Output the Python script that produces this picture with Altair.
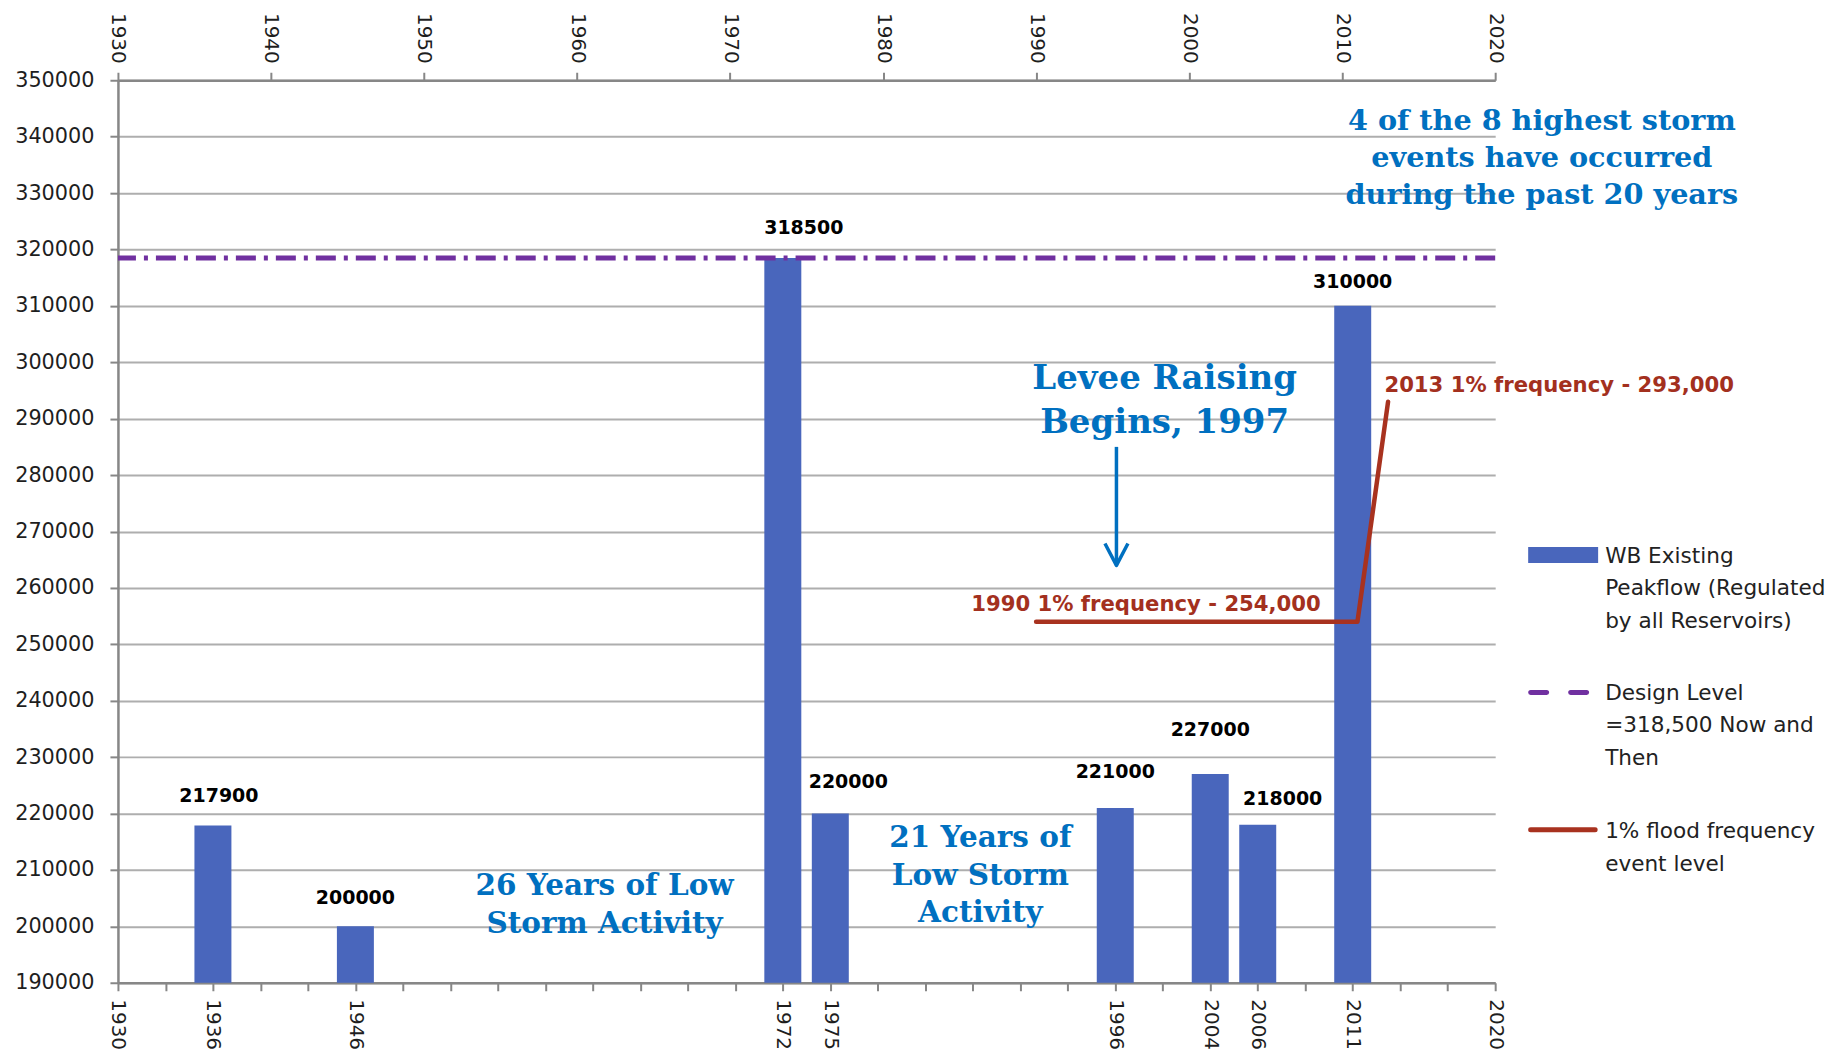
import json
import altair as alt
import pandas as pd

# ---------------- data ----------------
# bottom (category) axis: 30 slots, only some carry a year label
category_labels = [
    "1930", "", "1936", "", "", "1946", "", "", "", "", "", "", "", "",
    "1972", "1975", "", "", "", "", "", "1996", "", "2004", "2006", "",
    "2011", "", "", "2020",
]
event_years = ["1936", "1946", "1972", "1975", "1996", "2004", "2006", "2011"]
peakflow = [217900, 200000, 318500, 220000, 221000, 227000, 218000, 310000]

design_level = [318500]

freq_years = [1990, 2011, 2013]
freq_values = [254000, 254000, 293000]

arrow_years = [1995.25, 1995.25]
arrow_values = [285000, 264000]

y_ticks = list(range(190000, 350001, 10000))
top_ticks = list(range(1930, 2021, 10))

# ---------------- styles ----------------
BAR = "#4966BC"
PURPLE = "#7030A0"
RED = "#A8321F"
RED_TEXT = "#A3301E"
BLUE_TEXT = "#0070C0"
AXIS = "#878787"
GRID = "#AEAEAE"
LABEL = "#1E1E1E"

W, H = 1378, 903

bars_df = pd.DataFrame({
    "year": event_years,
    "slot": [category_labels.index(y) for y in event_years],
    "flow": peakflow,
})
freq_df = pd.DataFrame({"year": freq_years, "flow": freq_values,
                        "order": list(range(len(freq_years)))})
design_df = pd.DataFrame({"flow": design_level})
arrow_df = pd.DataFrame({"year": arrow_years, "flow": arrow_values,
                         "order": [0, 1]})
one = pd.DataFrame({"k": [0]})

y_scale = alt.Scale(domain=[190000, 350000], nice=False, zero=False)
y_axis = alt.Axis(values=y_ticks, format="d", grid=True, gridColor=GRID,
                  gridWidth=2, domainColor=AXIS, domainWidth=2.5,
                  tickColor=AXIS, tickWidth=2, tickSize=8, labelPadding=16,
                  labelFont="DejaVu Sans", labelFontSize=20.8,
                  labelColor=LABEL, labelFlush=False, title=None)

slot_scale = alt.Scale(domain=[0, len(category_labels) - 1], nice=False,
                       zero=False, padding=0)
slot_axis = alt.Axis(orient="bottom", values=list(range(len(category_labels))),
                     labelExpr=json.dumps(category_labels) + "[datum.value]",
                     labelAngle=90, labelAlign="left", labelBaseline="middle",
                     labelPadding=8, tickSize=8, tickColor=AXIS, tickWidth=2,
                     domainColor=AXIS, domainWidth=2.5, grid=False,
                     labelFont="DejaVu Sans", labelFontSize=20,
                     labelColor=LABEL, labelOverlap=False, labelFlush=False,
                     title=None)

year_scale = alt.Scale(domain=[1930, 2020], nice=False, zero=False, padding=0)
year_axis = alt.Axis(orient="top", values=top_ticks, format="d",
                     labelAngle=90, labelAlign="right", labelBaseline="middle",
                     labelPadding=9, tickSize=8, tickColor=AXIS, tickWidth=2,
                     domainColor=AXIS, domainWidth=2.5, grid=False,
                     labelFont="DejaVu Sans", labelFontSize=20,
                     labelColor=LABEL, labelOverlap=False, labelFlush=False,
                     title=None)

X_SLOT = alt.X("slot:Q", scale=slot_scale, axis=slot_axis)
X_YEAR = alt.X("year:Q", scale=year_scale, axis=year_axis)
Y = alt.Y("flow:Q", scale=y_scale, axis=y_axis)

# ---------------- bar group (category axis) ----------------
bars = alt.Chart(bars_df).mark_bar(color=BAR, size=37).encode(
    x=X_SLOT, y=Y, y2=alt.datum(190000)
)

label_nudge = {"1936": (6, -29), "1946": (0, -28), "1972": (21, -30),
               "1975": (18, -32), "1996": (0, -36), "2004": (0, -44),
               "2006": (25, -26), "2011": (0, -24)}
value_labels = []
for yr, (ddx, ddy) in label_nudge.items():
    value_labels.append(
        alt.Chart(bars_df).transform_filter(alt.datum.year == yr)
        .mark_text(font="DejaVu Sans", fontWeight="bold", fontSize=19,
                   color="#000000", baseline="middle", dx=ddx, dy=ddy)
        .encode(x=X_SLOT, y=Y, text=alt.Text("flow:Q", format="d"))
    )

bar_group = alt.layer(bars, *value_labels)

# ---------------- year group (top linear axis) ----------------
design = alt.Chart(design_df).mark_rule(
    color=PURPLE, strokeWidth=5, strokeDash=[20, 8, 4, 8]
).encode(y=Y)

freq_line = alt.Chart(freq_df).mark_line(
    color=RED, strokeWidth=4.5, strokeCap="round", strokeJoin="round"
).encode(x=X_YEAR, y=Y, order="order:Q")

arrow_line = alt.Chart(arrow_df).mark_line(
    color=BLUE_TEXT, strokeWidth=3.5
).encode(x=X_YEAR, y=Y, order="order:Q")

arrow_head = alt.Chart(arrow_df).transform_filter(alt.datum.order == 1).mark_point(
    shape="M -1 -1.9 L 0 0 L 1 -1.9", filled=False, strokeWidth=3.5,
    size=529, color=BLUE_TEXT, opacity=1, strokeJoin="round"
).encode(x=X_YEAR, y=Y)


def note(text, year, flow, size, color, font, align="center", lh=None):
    df = pd.DataFrame({"year": [year], "flow": [flow], "t": [text]})
    props = dict(font=font, fontWeight="bold", fontSize=size, color=color,
                 align=align, baseline="alphabetic", lineBreak="\n")
    if lh:
        props["lineHeight"] = lh
    return alt.Chart(df).mark_text(**props).encode(
        x=X_YEAR, y=Y, text="t:N")


notes = [
    note("4 of the 8 highest storm\nevents have occurred\nduring the past 20 years",
         2023.05, 341160, 28.7, BLUE_TEXT, "DejaVu Serif", lh=37),
    note("Levee Raising\nBegins, 1997", 1998.4, 295230, 34, BLUE_TEXT,
         "DejaVu Serif", lh=44),
    note("26 Years of Low\nStorm Activity", 1961.8, 205640, 29.5, BLUE_TEXT,
         "DejaVu Serif", lh=38),
    note("21 Years of\nLow Storm\nActivity", 1986.36, 213980, 29.5, BLUE_TEXT,
         "DejaVu Serif", lh=37.5),
    note("1990 1% frequency - 254,000", 1985.76, 255830, 21.2, RED_TEXT,
         "DejaVu Sans", align="left"),
    note("2013 1% frequency - 293,000", 2012.76, 294800, 21.2, RED_TEXT,
         "DejaVu Sans", align="left"),
]

year_group = alt.layer(design, freq_line, arrow_line, arrow_head, *notes)

# ---------------- manual legend ----------------
LX = 1411
leg_bar = alt.Chart(one).mark_rect(color=BAR).encode(
    x=alt.value(LX), x2=alt.value(LX + 70), y=alt.value(467), y2=alt.value(483))
leg_design = alt.Chart(one).mark_rule(
    color=PURPLE, strokeWidth=5, strokeDash=[16, 24], strokeCap="round"
).encode(x=alt.value(LX + 2.5), x2=alt.value(LX + 60), y=alt.value(612.7))
leg_red = alt.Chart(one).mark_rule(
    color=RED, strokeWidth=5, strokeCap="round"
).encode(x=alt.value(LX + 2.5), x2=alt.value(LX + 67), y=alt.value(750))


def leg_text(text, y):
    return alt.Chart(one).mark_text(
        font="DejaVu Sans", fontSize=21.6, color="#222222", align="left",
        baseline="alphabetic", lineBreak="\n", lineHeight=32.5
    ).encode(x=alt.value(LX + 77), y=alt.value(y), text=alt.value(text))


legend = alt.layer(
    leg_bar, leg_design, leg_red,
    leg_text("WB Existing\nPeakflow (Regulated\nby all Reservoirs)", 482.7),
    leg_text("Design Level\n=318,500 Now and\nThen", 620),
    leg_text("1% flood frequency\nevent level", 758.3),
)

chart = alt.layer(bar_group, year_group, legend).resolve_scale(
    x="independent"
).properties(
    width=W, height=H,
    padding={"left": 110, "top": 72, "right": 340, "bottom": 68},
    autosize=alt.AutoSizeParams(type="none"),
    background="white",
).configure_view(stroke=None)

chart.save("out.html", embed_options={"renderer": "svg", "actions": False})
